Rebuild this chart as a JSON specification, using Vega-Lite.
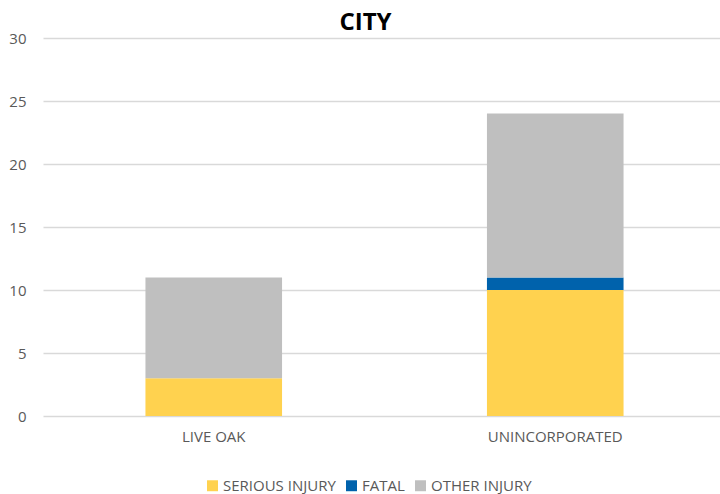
{
  "$schema": "https://vega.github.io/schema/vega-lite/v6.json",
  "width": 683,
  "height": 378,
  "autosize": {"type": "none"},
  "padding": {"left": 43, "top": 38, "right": 0, "bottom": 78},
  "background": "white",
  "config": {
    "font": "Open Sans",
    "view": {"stroke": null}
  },
  "title": {
    "text": "CITY",
    "fontSize": 24,
    "fontWeight": "bold",
    "color": "#000000",
    "font": "Open Sans",
    "anchor": "middle",
    "dx": -19,
    "offset": -4
  },
  "data": {
    "values": [
      {"city": "LIVE OAK", "type": "SERIOUS INJURY", "ord": 1, "count": 3},
      {"city": "LIVE OAK", "type": "FATAL", "ord": 2, "count": 0},
      {"city": "LIVE OAK", "type": "OTHER INJURY", "ord": 3, "count": 8},
      {"city": "UNINCORPORATED", "type": "SERIOUS INJURY", "ord": 1, "count": 10},
      {"city": "UNINCORPORATED", "type": "FATAL", "ord": 2, "count": 1},
      {"city": "UNINCORPORATED", "type": "OTHER INJURY", "ord": 3, "count": 13}
    ]
  },
  "mark": {"type": "bar"},
  "encoding": {
    "x": {
      "field": "city",
      "type": "nominal",
      "scale": {"paddingInner": 0.6, "paddingOuter": 0.3},
      "axis": {
        "title": null,
        "labelAngle": 0,
        "labelFontSize": 15,
        "labelColor": "#595959",
        "labelPadding": 13,
        "domain": false,
        "ticks": false
      }
    },
    "y": {
      "field": "count",
      "type": "quantitative",
      "stack": "zero",
      "scale": {"domain": [0, 30], "nice": false},
      "axis": {
        "title": null,
        "values": [0, 5, 10, 15, 20, 25, 30],
        "labelFontSize": 15,
        "labelColor": "#595959",
        "labelPadding": 17,
        "domain": false,
        "ticks": false,
        "gridColor": "#D9D9D9",
        "gridWidth": 1.5
      }
    },
    "color": {
      "field": "type",
      "type": "nominal",
      "scale": {
        "domain": ["SERIOUS INJURY", "FATAL", "OTHER INJURY"],
        "range": ["#FFD24F", "#0062AC", "#BFBFBF"]
      },
      "legend": {
        "title": null,
        "orient": "none",
        "direction": "horizontal",
        "legendX": 162,
        "legendY": 440,
        "symbolType": "square",
        "symbolSize": 120,
        "symbolStrokeWidth": 0,
        "labelFontSize": 15,
        "labelColor": "#595959",
        "columnPadding": 8,
        "labelOffset": 3
      }
    },
    "order": {"field": "ord", "type": "quantitative", "sort": "ascending"}
  }
}
